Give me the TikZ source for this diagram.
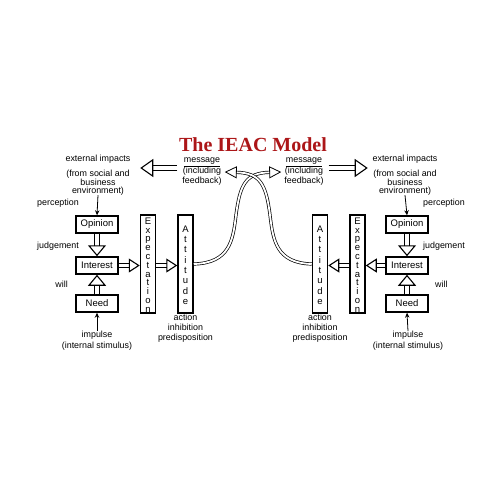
\documentclass[tikz,border=0pt]{standalone}
\usepackage{fontspec}
\setmainfont{Liberation Sans}
\newfontfamily\titlefont{Liberation Serif}
\usepackage{tikz}
\usetikzlibrary{arrows.meta,positioning,calc}
\definecolor{ieacred}{RGB}{172,22,24}

\tikzset{
	lbl/.style = {inner sep=0pt, align=center, font=\fontsize{8.9}{7.6}\selectfont},
	box/.style = {draw, line width=1.5pt, minimum width=42pt, minimum height=17pt, inner sep=0pt, font=\fontsize{9.5}{10}\selectfont},
	col/.style = {draw, line width=1.5pt, minimum width=15pt, minimum height=98pt, inner sep=0pt},
	letter/.style = {inner sep=0pt, anchor=base, font=\fontsize{9.5}{9.5}\selectfont},
	thinarr/.style = {line width=0.8pt, -{Stealth[length=5pt,width=4.5pt]}},
	hollowv/.style = {line width=1.1pt, double=white, double distance=4.5pt, -{Triangle[open, length=11pt, width=18pt, line width=1.1pt]}},
	hollowh/.style = {line width=1.1pt, double=white, double distance=3.5pt, -{Triangle[open, length=11pt, width=14pt, line width=1.1pt]}},
	hollowbig/.style = {line width=1.1pt, double=white, double distance=4pt, -{Triangle[open, length=13pt, width=18pt, line width=1.1pt]}},
	wire/.style = {line width=0.7pt, double=white, double distance=1.8pt, -{Triangle[open, length=12pt, width=12pt, line width=0.8pt]}}
}

\begin{document}
\begin{tikzpicture}[x=1pt, y=-1pt]
	\useasboundingbox (0,0) rectangle (500,500);

	\node[font=\titlefont\bfseries\fontsize{20}{20}\selectfont, text=ieacred, inner sep=0pt] (title) at (253,145) {The IEAC Model};

	% left person
	\node[lbl] (extL) at (98,175) {external impacts\\[5.4pt](from social and\\business\\environment)};
	\node[box] (opinL) at (97,224.5) {Opinion};
	\node[box] (interL) at (97,265.5) {Interest};
	\node[box] (needL) at (97,303.5) {Need};
	\node[col] (expL) at (148,264) {};
	\node[col] (attL) at (185.5,264) {};
	\node[lbl, anchor=east] (percL) at (79,203) {perception};
	\node[lbl, anchor=east] (judgL) at (79,246) {judgement};
	\node[lbl, anchor=east] (willL) at (68,284) {will};
	\node[lbl, font=\fontsize{8.9}{11}\selectfont] (impL) at (97,341) {impulse\\(internal stimulus)};
	\node[lbl, font=\fontsize{8.9}{10}\selectfont] (actL) at (185.5,328) {action\\inhibition\\predisposition};
	\node[lbl, font=\fontsize{8.9}{10.5}\selectfont] (msgL) at (202,172) {\underline{message}\\(including\\feedback)};

	% right person
	\node[lbl] (extR) at (405,175) {external impacts\\[5.4pt](from social and\\business\\environment)};
	\node[box] (opinR) at (407,224.5) {Opinion};
	\node[box] (interR) at (407,265.5) {Interest};
	\node[box] (needR) at (407,303.5) {Need};
	\node[col] (expR) at (357.5,264) {};
	\node[col] (attR) at (320,264) {};
	\node[lbl, anchor=west] (percR) at (423,203) {perception};
	\node[lbl, anchor=west] (judgR) at (423,246) {judgement};
	\node[lbl, anchor=west] (willR) at (435,284) {will};
	\node[lbl, font=\fontsize{8.9}{11}\selectfont] (impR) at (408,341) {impulse\\(internal stimulus)};
	\node[lbl, font=\fontsize{8.9}{10}\selectfont] (actR) at (320,328) {action\\inhibition\\predisposition};
	\node[lbl, font=\fontsize{8.9}{10.5}\selectfont] (msgR) at (304,172) {\underline{message}\\(including\\feedback)};

	% stacked letters
	\foreach \side in {L,R}{
		\begin{scope}
			\clip (exp\side.south west) rectangle (exp\side.north east);
			\foreach \c [count=\i from 0] in {E,x,p,e,c,t,a,t,i,o,n}
				\path (exp\side.north) ++(0,{10+8.8*\i}) node[letter] {\c};
		\end{scope}
		\foreach \c [count=\i from 0] in {A,t,t,i,t,u,d,e}
			\path (att\side.north) ++(0,{18+10.3*\i}) node[letter] {\c};
	}

	% thin arrows
	\draw[thinarr] (extL.south) -- (opinL.north);
	\draw[thinarr] (impL.north) -- (needL.south);
	\draw[thinarr] (extR.south) -- (opinR.north);
	\draw[thinarr] (impR.north) -- (needR.south);

	% hollow arrows
	\draw[hollowv] (opinL.south) -- (interL.north);
	\draw[hollowv] (needL.north) -- (interL.south);
	\draw[hollowh] (interL.east) -- (interL.east -| expL.west);
	\draw[hollowh] (interL.east -| expL.east) -- (interL.east -| attL.west);
	\draw[hollowv] (opinR.south) -- (interR.north);
	\draw[hollowv] (needR.north) -- (interR.south);
	\draw[hollowh] (interR.west) -- (interR.west -| expR.east);
	\draw[hollowh] (interR.west -| expR.west) -- (interR.west -| attR.east);

	\draw[hollowbig] ([xshift=-5pt,yshift=4pt]msgL.west) -- +(-37,0);
	\draw[hollowbig] ([xshift=5pt,yshift=4pt]msgR.east) -- +(39,0);

	% message wires
	\draw[wire] (attL.east) .. controls (230,263) and (233,240) .. (236,215) .. controls (240,184) and (246,173) .. ([xshift=-3pt]msgR.west);
	\draw[wire] (attR.west) .. controls (276,263) and (273,240) .. (270,215) .. controls (266,184) and (260,173) .. ([xshift=3pt]msgL.east);
\end{tikzpicture}
\end{document}
